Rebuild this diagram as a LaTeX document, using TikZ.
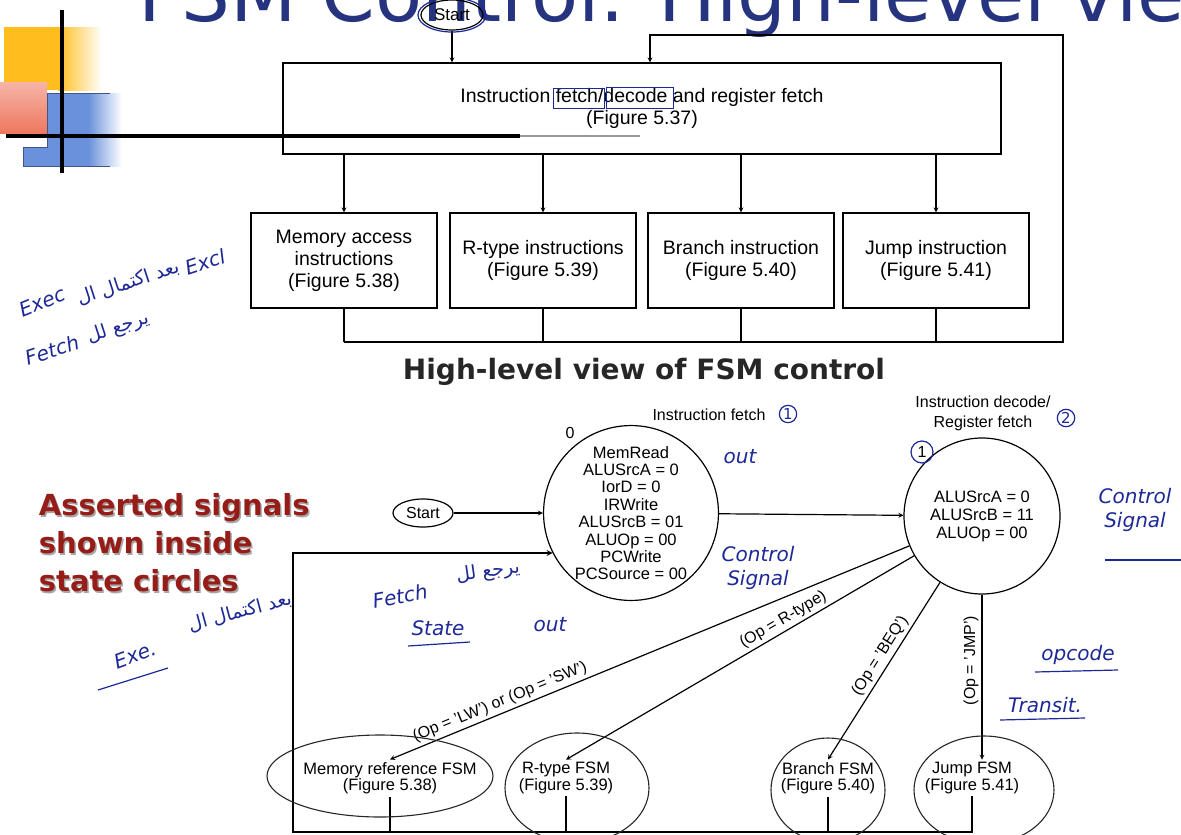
\documentclass[tikz,border=0pt]{standalone}
\usepackage{fontspec}
\setmainfont{Liberation Sans}
\newfontfamily\headfont{DejaVu Sans}
\newfontfamily\arabicfont[Script=Arabic]{DejaVu Sans}
\usetikzlibrary{shapes.geometric,positioning}
\TeXXeTstate=1
\definecolor{titleblue}{RGB}{38,52,128}
\definecolor{ink}{RGB}{28,40,150}
\definecolor{darkred}{RGB}{150,28,24}
\definecolor{slideyellow}{RGB}{255,190,30}
\definecolor{slideblue}{RGB}{105,145,220}
\definecolor{slidered}{RGB}{238,120,95}
\tikzstyle{arrow} = [->,>=stealth]
\tikzstyle{block} = [draw, line width=1.2pt, minimum width=186pt, minimum height=95pt, align=center, font=\fontsize{19.5}{22}\selectfont]
\tikzstyle{state} = [draw, circle, line width=1.2pt, inner sep=0pt, align=center, font=\fontsize{16.5}{17.4}\selectfont]
\tikzstyle{oval} = [draw, ellipse, line width=1.2pt, minimum width=62pt, minimum height=30pt, inner sep=0pt, font=\fontsize{17}{18}\selectfont]
\tikzstyle{fsm} = [align=center, inner sep=2pt, font=\fontsize{16.5}{16.5}\selectfont]
\tikzstyle{cond} = [font=\fontsize{16}{16}\selectfont, sloped, above, inner sep=3pt]
\tikzstyle{hand} = [text=ink, font=\headfont\itshape\fontsize{20}{24}\selectfont]
\tikzstyle{handar} = [text=ink, font=\arabicfont\fontsize{19}{22}\selectfont]
\tikzstyle{scrawl} = [draw=black!85, line width=1.1pt]

\begin{document}
\begin{tikzpicture}[x=1pt, y=-1pt, line width=1.2pt]
  \useasboundingbox (0,0) rectangle (1181,835);
  \clip (0,0) rectangle (1181,835);

  % slide corner graphic
  \fill[slideyellow] (4,27) rectangle (58,90);
  \shade[left color=slideyellow, right color=white] (58,27) rectangle (102,90);
  \shade[top color=slidered!55!white, bottom color=slidered] (0,82) rectangle (47,133);
  \fill[slideblue] (47,93) -- (88,93) -- (88,166) -- (23,166) -- (23,147) -- (47,147) -- cycle;
  \shade[left color=slideblue, right color=white] (88,93) rectangle (122,166);
  \draw[slideblue!60!black, line width=0.8pt] (110,93) -- (47,93) -- (47,147) -- (23,147) -- (23,166) -- (110,166);
  \draw[line width=3.5pt] (62,10) -- (62,173);
  \draw[line width=3.5pt] (6,136) -- (520,136);
  \draw[line width=2pt, black!40] (520,136) -- (640,136);
  \node[anchor=base west, text=titleblue, inner sep=0pt, font=\headfont\fontsize{77}{80}\selectfont] (slidetitle) at (138,21) {FSM Control: High-level view};

  % top level flow
  \node[oval] at (452,15) (start1) {Start};
  \node[draw, line width=1.2pt, minimum width=718pt, minimum height=91pt, align=center, font=\fontsize{19.5}{22}\selectfont] at (642,108.5) (fetch) {Instruction fetch/decode and register fetch\\(Figure 5.37)};
  \node[block] at (344,260.5) (mem) {Memory access\\instructions\\(Figure 5.38)};
  \node[block] at (543,260.5) (rtype) {R-type instructions\\(Figure 5.39)};
  \node[block] at (741,260.5) (branch) {Branch instruction\\(Figure 5.40)};
  \node[block] at (936,260.5) (jump) {Jump instruction\\(Figure 5.41)};
  \coordinate (loopA) at (1063,342);
  \coordinate (loopB) at (650,35);

  \draw[arrow] (start1) -- (start1 |- fetch.north);
  \foreach \b in {mem,rtype,branch,jump}
    \draw[arrow] (\b.north |- fetch.south) -- (\b.north);
  \foreach \b in {mem,rtype,branch}
    \draw (\b.south) -- (\b.south |- loopA);
  \draw (mem.south |- loopA) -- (jump.south |- loopA);
  \draw[arrow] (jump.south) -- (jump.south |- loopA) -- (loopA) |- (loopB) -- (loopB |- fetch.north);

  % FSM view
  \node[font=\headfont\bfseries\fontsize{28}{30}\selectfont, text=black!85] at (644,372) (fsmhead) {High-level view of FSM control};
  \node[gray!70, font=\headfont\bfseries\fontsize{29}{38}\selectfont, align=left, anchor=west] at (36.5,544.5) {Asserted signals\\shown inside\\state circles};
  \node[darkred, font=\headfont\bfseries\fontsize{29}{38}\selectfont, align=left, anchor=west] at (35,543) (asserted) {Asserted signals\\shown inside\\state circles};

  \node[font=\fontsize{16}{17}\selectfont] at (709,415) (fetchlbl) {Instruction fetch};
  \node[font=\fontsize{16}{17}\selectfont] at (570,433) (zero) {0};
  \node[state, minimum size=174pt] at (631,513) (s0) {MemRead\\ALUSrcA = 0\\IorD = 0\\IRWrite\\ALUSrcB = 01\\ALUOp = 00\\PCWrite\\PCSource = 00};
  \node[font=\fontsize{16}{20}\selectfont, align=center] at (983,413) (decodelbl) {Instruction decode/\\Register fetch};
  \node[font=\fontsize{16}{17}\selectfont] at (922,452) (one) {1};
  \node[state, minimum size=156pt, font=\fontsize{16.5}{18}\selectfont] at (982,516) (s1) {ALUSrcA = 0\\ALUSrcB = 11\\ALUOp = 00};
  \node[oval, minimum width=60pt, minimum height=28pt, font=\fontsize{16}{17}\selectfont] at (423,513) (start2) {Start};

  \node[fsm] at (390,778) (memfsm) {Memory reference FSM\\(Figure 5.38)};
  \node[fsm] at (566,778) (rfsm) {R-type FSM\\(Figure 5.39)};
  \node[fsm] at (828,778) (bfsm) {Branch FSM\\(Figure 5.40)};
  \node[fsm] at (972,778) (jfsm) {Jump FSM\\(Figure 5.41)};
  \coordinate (loopC) at (293,832);

  \draw[arrow] (start2) -- (s0);
  \draw[arrow] (s0) -- (s1);
  \draw[arrow] (s1) -- (memfsm.north) node[cond, pos=0.78] {(Op = 'LW') or (Op = 'SW')};
  \draw[arrow] (s1) -- (rfsm.north) node[cond, pos=0.36] {(Op = R-type)};
  \draw[arrow] (s1) -- (bfsm.north) node[cond, pos=0.45] {(Op = 'BEQ')};
  \draw[arrow] (s1.south) -- (s1.south |- jfsm.north) node[font=\fontsize{16}{16}\selectfont, inner sep=3pt, rotate=90, anchor=south, pos=0.4] {(Op = 'JMP')};
  \foreach \f in {memfsm,rfsm,bfsm}
    \draw[line width=1.6pt] (\f.south) -- (\f.south |- loopC);
  \draw[arrow, line width=1.6pt] (jfsm.south) -- (jfsm.south |- loopC) -- (loopC) |- (s0.207);

  % pen notes
  \draw[ink] (start1) ellipse [x radius=34, y radius=17];
  \draw[ink, line width=1pt] (553,88) rectangle (604,108);
  \draw[ink, line width=1pt] (606,87) rectangle (673,108);
  \draw[ink] (one) circle (11);
  \node[hand, draw=ink, circle, inner sep=1pt, font=\headfont\fontsize{15}{15}\selectfont] at (788,414) (c1) {1};
  \node[hand, draw=ink, circle, inner sep=1pt, font=\headfont\fontsize{15}{15}\selectfont] at (1066,418) (c2) {2};
  \draw[scrawl] (380,776) ellipse [x radius=113, y radius=41];
  \draw[scrawl] (577,788) ellipse [x radius=72, y radius=55];
  \draw[scrawl] (828,790) ellipse [x radius=57, y radius=52];
  \draw[scrawl] (984,790) ellipse [x radius=70, y radius=54];

  \node[hand, rotate=18] at (205,262) (hexcl) {Excl};
  \node[hand, rotate=22] at (42,302) (hexec) {Exec};
  \node[handar, rotate=18] at (128,283) (har1) {\beginR بعد اكتمال ال\endR};
  \node[hand, rotate=18] at (52,350) (hfetch1) {Fetch};
  \node[handar, rotate=18] at (118,328) (har2) {\beginR يرجع لل\endR};
  \node[hand, rotate=20] at (135,655) (hexe) {Exe.};
  \draw[ink] (98,690) -- (168,668);
  \node[handar, rotate=15] at (240,612) (har3) {\beginR بعد اكتمال ال\endR};
  \node[hand, rotate=10] at (400,596) (hfetch2) {Fetch};
  \node[handar, rotate=8] at (488,572) (har4) {\beginR يرجع لل\endR};
  \node[hand] at (438,628) (hstate) {State};
  \draw[ink] (408,646) -- (470,642);
  \node[hand] at (550,625) (hout1) {out};
  \node[hand] at (740,457) (hout2) {out};
  \node[hand, align=center] at (758,568) (hcs1) {Control\\Signal};
  \node[hand, align=center] at (1135,510) (hcs2) {Control\\Signal};
  \draw[ink] (1105,560) -- (1181,560);
  \node[hand] at (1078,655) (hop) {opcode};
  \draw[ink] (1035,672) -- (1118,670);
  \node[hand] at (1045,705) (htr) {Transit.};
  \draw[ink] (1000,720) -- (1085,718);
\end{tikzpicture}
\end{document}
